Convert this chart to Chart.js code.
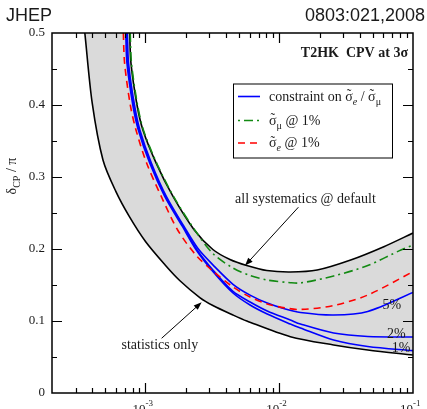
<!DOCTYPE html>
<html><head><meta charset="utf-8">
<script src="https://cdn.jsdelivr.net/npm/chart.js@4/dist/chart.umd.min.js"></script>
<style>html,body{margin:0;padding:0;background:#fff;overflow:hidden}#wrap{width:427px;height:409px;position:relative}</style>
</head><body><div id="wrap"><canvas id="c" width="427" height="409"></canvas></div>
<script>
// ---- data (x = sin^2 2theta13, y = deltaCP / pi) ----
const statX = [3.52e-4, 3.995e-4, 4.81e-4, 6.0e-4, 7.58e-4, 1.0e-3, 1.402e-3, 1.801e-3, 2.547e-3, 3.19e-3, 4.51e-3, 5.72e-3, 1.21e-2, 2.55e-2, 4.59e-2, 0.1];
const statY = [0.50, 0.4028, 0.3236, 0.280, 0.2449, 0.2104, 0.1778, 0.1563, 0.1326, 0.1215, 0.1083, 0.100, 0.0782, 0.0667, 0.0597, 0.0528];

const systX = [7.62e-4, 7.79e-4, 8.647e-4, 9.58e-4, 1.204e-3, 1.61e-3, 2.316e-3, 3.19e-3, 4.28e-3, 5.71e-3, 8.08e-3, 1.21e-2, 1.92e-2, 3.42e-2, 6.05e-2, 0.1];
const systY = [0.50, 0.458, 0.40, 0.365, 0.319, 0.2726, 0.2264, 0.1993, 0.1854, 0.1771, 0.1701, 0.1681, 0.1708, 0.1847, 0.2032, 0.2222];

const muX = [7.69e-4, 7.86e-4, 8.72e-4, 9.66e-4, 1.214e-3, 1.624e-3, 2.336e-3, 3.19e-3, 4.51e-3, 6.05e-3, 8.13e-3, 1.21e-2, 1.44e-2, 2.55e-2, 4.59e-2, 8.12e-2, 0.1];
const muY = [0.50, 0.458, 0.40, 0.365, 0.319, 0.2726, 0.2264, 0.1938, 0.1736, 0.1632, 0.1569, 0.1532, 0.1528, 0.1625, 0.1771, 0.1986, 0.2056];

const eX = [6.83e-4, 6.98e-4, 7.70e-4, 8.50e-4, 1.021e-3, 1.312e-3, 1.74e-3, 2.377e-3, 3.19e-3, 4.51e-3, 6.05e-3, 8.13e-3, 1.11e-2, 1.44e-2, 2.55e-2, 4.59e-2, 0.1];
const eY = [0.50, 0.458, 0.40, 0.365, 0.319, 0.273, 0.2264, 0.1917, 0.1694, 0.1472, 0.1333, 0.1236, 0.1181, 0.116, 0.1215, 0.1361, 0.1685];

const r5X = [7.32e-4, 7.47e-4, 8.27e-4, 9.09e-4, 1.108e-3, 1.431e-3, 1.931e-3, 2.46e-3, 3.19e-3, 4.51e-3, 6.05e-3, 8.13e-3, 1.11e-2, 1.44e-2, 2.55e-2, 4.59e-2, 0.1];
const r5Y = [0.50, 0.458, 0.40, 0.365, 0.319, 0.273, 0.232, 0.201, 0.178, 0.151, 0.136, 0.125, 0.1167, 0.1118, 0.1083, 0.1132, 0.1396];

const r2X = [7.22e-4, 7.37e-4, 8.15e-4, 8.97e-4, 1.092e-3, 1.411e-3, 1.905e-3, 2.418e-3, 3.19e-3, 4.51e-3, 6.05e-3, 8.13e-3, 1.21e-2, 1.44e-2, 2.55e-2, 4.59e-2, 0.1];
const r2Y = [0.50, 0.458, 0.40, 0.365, 0.319, 0.273, 0.232, 0.1993, 0.1708, 0.141, 0.1264, 0.1139, 0.1014, 0.0958, 0.0833, 0.0785, 0.0778];

const r1X = [7.12e-4, 7.27e-4, 8.04e-4, 8.85e-4, 1.077e-3, 1.392e-3, 1.878e-3, 2.397e-3, 3.19e-3, 4.51e-3, 6.05e-3, 8.13e-3, 1.21e-2, 1.44e-2, 2.55e-2, 4.59e-2, 0.1];
const r1Y = [0.50, 0.458, 0.40, 0.365, 0.319, 0.273, 0.232, 0.1986, 0.1688, 0.1389, 0.1222, 0.1097, 0.0958, 0.0903, 0.0736, 0.0646, 0.0588];

// ticks
const xMajorTicks = [1e-3, 1e-2, 1e-1];
const xTickExp = ['-3', '-2', '-1'];
const yTicks = [0, 0.1, 0.2, 0.3, 0.4, 0.5];
const yTickLabels = ['0', '0.1', '0.2', '0.3', '0.4', '0.5'];

// annotations (data coordinates)
const annoText = ['all systematics @ default', 'statistics only', '5%', '2%', '1%'];
const annoX = [1.57e-2, 1.28e-3, 6.95e-2, 7.52e-2, 8.13e-2];
const annoY = [0.264, 0.061, 0.117, 0.076, 0.057];
const arrowFromX = [1.39e-2, 1.32e-3];
const arrowFromY = [0.258, 0.076];
const arrowToX = [5.55e-3, 2.63e-3];
const arrowToY = [0.177, 0.126];

const SERIF = '"Liberation Serif", "Times New Roman", serif';
const TXT = '#1a1a1a';
const BLUE = '#0000ff', GREEN = '#138a13', RED = '#ff0000';

const pts = (xs, ys) => xs.map((x, i) => ({x: x, y: ys[i]}));
const base = {pointRadius: 0, pointHoverRadius: 0, tension: 0.3, borderWidth: 1.6, fill: false};

function fontFor(r, size) {
  const s = (r.sub || r.sup) ? Math.round(size * 0.72) : size;
  return (r.italic ? 'italic ' : '') + (r.bold ? 'bold ' : '') + s + 'px ' + SERIF;
}
function drawRuns(ctx, runs, x, y, size, align) {
  let total = 0;
  const w = runs.map(r => { ctx.font = fontFor(r, size); const m = ctx.measureText(r.t).width; total += m; return m; });
  let cx = align === 'center' ? x - total / 2 : (align === 'right' ? x - total : x);
  ctx.textAlign = 'left'; ctx.textBaseline = 'alphabetic';
  runs.forEach((r, i) => {
    ctx.font = fontFor(r, size);
    const dy = r.sub ? size * 0.32 : (r.sup ? -size * 0.42 : 0);
    ctx.fillText(r.t, cx, y + dy);
    if (r.tilde) {
      ctx.textAlign = 'center';
      ctx.fillText('˜', cx + w[i] / 2, y + dy - size * 0.08);
      ctx.textAlign = 'left';
    }
    cx += w[i];
  });
}
function arrow(ctx, x1, y1, x2, y2) {
  const a = Math.atan2(y2 - y1, x2 - x1), L = 8, W = 3;
  ctx.beginPath(); ctx.moveTo(x1, y1); ctx.lineTo(x2 - L * 0.7 * Math.cos(a), y2 - L * 0.7 * Math.sin(a)); ctx.stroke();
  ctx.beginPath();
  ctx.moveTo(x2, y2);
  ctx.lineTo(x2 - L * Math.cos(a) + W * Math.sin(a), y2 - L * Math.sin(a) - W * Math.cos(a));
  ctx.lineTo(x2 - L * Math.cos(a) - W * Math.sin(a), y2 - L * Math.sin(a) + W * Math.cos(a));
  ctx.closePath(); ctx.fill();
}

const decor = {
  id: 'decor',
  afterDatasetsDraw(chart) {
    const ctx = chart.ctx, ca = chart.chartArea, xs = chart.scales.x, ys = chart.scales.y;
    ctx.save();
    // frame
    ctx.strokeStyle = '#000'; ctx.lineWidth = 1.5;
    ctx.strokeRect(ca.left, ca.top, ca.right - ca.left, ca.bottom - ca.top);
    // x ticks
    ctx.lineWidth = 1.2;
    for (let d = -4; d <= -1; d++) {
      for (let m = 1; m <= 9; m++) {
        const v = m * Math.pow(10, d);
        if (v <= xs.min * 1.0001 || v >= xs.max * 0.9999) continue;
        const px = Math.round(xs.getPixelForValue(v)) + 0.5;
        const L = m === 1 ? 10 : 5;
        ctx.beginPath(); ctx.moveTo(px, ca.bottom); ctx.lineTo(px, ca.bottom - L);
        ctx.moveTo(px, ca.top); ctx.lineTo(px, ca.top + L); ctx.stroke();
      }
    }
    // y ticks
    for (let k = 1; k < 10; k++) {
      const v = k * 0.05;
      const py = Math.round(ys.getPixelForValue(v)) + 0.5;
      const L = k % 2 === 0 ? 10 : 5;
      ctx.beginPath(); ctx.moveTo(ca.left, py); ctx.lineTo(ca.left + L, py);
      ctx.moveTo(ca.right, py); ctx.lineTo(ca.right - L, py); ctx.stroke();
    }
    // x tick labels 10^n
    ctx.fillStyle = TXT;
    xMajorTicks.forEach((v, i) => {
      const px = xs.getPixelForValue(v);
      ctx.textBaseline = 'alphabetic';
      ctx.font = '13px ' + SERIF; ctx.textAlign = 'right';
      ctx.fillText('10', px, ca.bottom + 20);
      ctx.font = '9px ' + SERIF; ctx.textAlign = 'left';
      ctx.fillText(xTickExp[i], px, ca.bottom + 13);
    });
    // y axis title
    ctx.save();
    ctx.translate(16, 176); ctx.rotate(-Math.PI / 2);
    drawRuns(ctx, [{t: 'δ'}, {t: 'CP', sub: true}, {t: ' / π'}], 0, 0, 14, 'center');
    ctx.restore();
    // header
    ctx.font = '18px "Liberation Sans", Arial, sans-serif';
    ctx.textAlign = 'left'; ctx.fillText('JHEP', 6, 21);
    ctx.textAlign = 'right'; ctx.fillText('0803:021,2008', 425, 21);
    // plot title
    drawRuns(ctx, [{t: 'T2HK  CPV at 3σ', bold: true}], ca.right - 5, ca.top + 24, 14, 'right');
    // legend
    const lx = 233, ly = 83.5, lw = 159, lh = 74;
    ctx.fillStyle = '#fff'; ctx.fillRect(lx, ly, lw, lh);
    ctx.strokeStyle = '#000'; ctx.lineWidth = 1; ctx.strokeRect(lx + 0.5, ly + 0.5, lw, lh);
    const rows = [
      {c: BLUE, dash: [], y: 96.5, runs: [{t: 'constraint on '}, {t: 'σ', tilde: true}, {t: 'e', sub: true, italic: true}, {t: ' / '}, {t: 'σ', tilde: true}, {t: 'μ', sub: true}]},
      {c: GREEN, dash: [2, 4, 9, 4], y: 120.5, runs: [{t: 'σ', tilde: true}, {t: 'μ', sub: true}, {t: ' @ 1%'}]},
      {c: RED, dash: [7, 5], y: 143, runs: [{t: 'σ', tilde: true}, {t: 'e', sub: true, italic: true}, {t: ' @ 1%'}]}
    ];
    rows.forEach(r => {
      ctx.strokeStyle = r.c; ctx.lineWidth = 1.6; ctx.setLineDash(r.dash);
      ctx.beginPath(); ctx.moveTo(238, r.y); ctx.lineTo(260, r.y); ctx.stroke();
      ctx.setLineDash([]);
      ctx.fillStyle = TXT;
      drawRuns(ctx, r.runs, 269, r.y + 4, 14, 'left');
    });
    // annotations
    ctx.fillStyle = TXT;
    annoText.forEach((t, i) => {
      drawRuns(ctx, [{t: t}], xs.getPixelForValue(annoX[i]), ys.getPixelForValue(annoY[i]), 14, 'center');
    });
    ctx.strokeStyle = '#000'; ctx.fillStyle = '#000'; ctx.lineWidth = 1;
    arrowFromX.forEach((x, i) => {
      arrow(ctx, xs.getPixelForValue(x), ys.getPixelForValue(arrowFromY[i]), xs.getPixelForValue(arrowToX[i]), ys.getPixelForValue(arrowToY[i]));
    });
    ctx.restore();
  }
};

new Chart(document.getElementById('c'), {
  type: 'line',
  data: {
    datasets: [
      Object.assign({}, base, {label: 'statistics only', data: pts(statX, statY), borderColor: '#000', backgroundColor: '#dadada', fill: 'end', order: 10}),
      Object.assign({}, base, {label: 'all systematics @ default', data: pts(systX, systY), borderColor: '#000', backgroundColor: '#ffffff', fill: 'end', order: 9}),
      Object.assign({}, base, {label: 'constraint 5%', data: pts(r5X, r5Y), borderColor: BLUE, order: 5}),
      Object.assign({}, base, {label: 'constraint 2%', data: pts(r2X, r2Y), borderColor: BLUE, order: 5}),
      Object.assign({}, base, {label: 'constraint 1%', data: pts(r1X, r1Y), borderColor: BLUE, order: 5}),
      Object.assign({}, base, {label: 'sigma_e @ 1%', data: pts(eX, eY), borderColor: RED, borderDash: [7, 5], order: 3}),
      Object.assign({}, base, {label: 'sigma_mu @ 1%', data: pts(muX, muY), borderColor: GREEN, borderDash: [9, 4, 2, 4], order: 2})
    ]
  },
  options: {
    responsive: false, animation: false, devicePixelRatio: 1,
    layout: {padding: {left: 0, right: 14, top: 33, bottom: 0}},
    plugins: {legend: {display: false}, tooltip: {enabled: false}},
    scales: {
      x: {type: 'logarithmic', min: 2e-4, max: 0.1,
          grid: {display: false, drawTicks: false}, border: {display: false},
          ticks: {display: false}, afterFit(s) { s.height = 16; }},
      y: {type: 'linear', min: 0, max: 0.5,
          afterBuildTicks(s) { s.ticks = yTicks.map(v => ({value: v})); },
          grid: {display: false, drawTicks: false}, border: {display: false},
          ticks: {padding: 7, color: TXT, font: {family: SERIF, size: 13}, callback: (v, i) => yTickLabels[i]},
          afterFit(s) { s.width = 52; }}
    }
  },
  plugins: [decor]
});
</script></body></html>
